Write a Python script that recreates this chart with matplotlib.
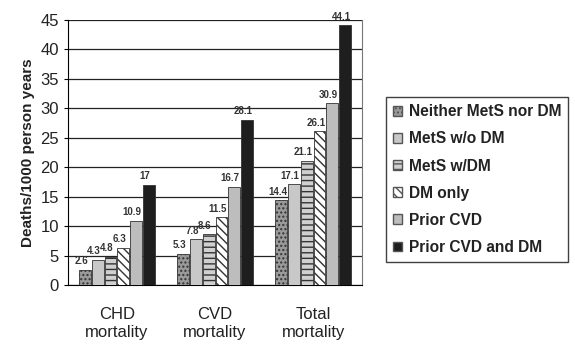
import numpy as np
import matplotlib.pyplot as plt
from matplotlib.patches import Patch

plt.rcParams['font.family'] = ['Liberation Sans', 'DejaVu Sans']

categories = ["CHD\nmortality", "CVD\nmortality", "Total\nmortality"]
series = ["Neither MetS nor DM", "MetS w/o DM", "MetS w/DM",
          "DM only", "Prior CVD", "Prior CVD and DM"]
neither = [2.6, 5.3, 14.4]
mets_wo_dm = [4.3, 7.8, 17.1]
mets_w_dm = [4.8, 8.6, 21.1]
dm_only = [6.3, 11.5, 26.1]
prior_cvd = [10.9, 16.7, 30.9]
prior_cvd_dm = [17, 28.1, 44.1]
values = [neither, mets_wo_dm, mets_w_dm, dm_only, prior_cvd, prior_cvd_dm]
labels = [["2.6", "5.3", "14.4"], ["4.3", "7.8", "17.1"], ["4.8", "8.6", "21.1"],
          ["6.3", "11.5", "26.1"], ["10.9", "16.7", "30.9"], ["17", "28.1", "44.1"]]

faces = ["#9a9a9a", "#c8c8c8", "#d0d0d0", "#ffffff", "#bdbdbd", "#1e1e1e"]
hatches = ["....", "", "---", "\\\\\\\\", "", ""]

fig = plt.figure(figsize=(5.75, 3.58), dpi=100)
ax = fig.add_axes([0.118, 0.204, 0.512, 0.74])

x = np.arange(len(categories))
w = 0.13
for i, vals in enumerate(values):
    pos = x + (i - 2.5) * w
    ax.bar(pos, vals, width=w * 0.92, color=faces[i], edgecolor="#333333",
           linewidth=0.6, hatch=hatches[i], zorder=3)
    for p, v, t in zip(pos, vals, labels[i]):
        ax.text(p - w * 0.3, v + 0.6, t, ha="center", va="bottom",
                fontsize=7, fontweight="bold", color="#333333")

ax.set_ylim(0, 45)
ax.set_yticks(range(0, 46, 5))
ax.set_xlim(-0.5, 2.5)
ax.set_xticks(x)
ax.set_xticklabels(categories, fontsize=12, color="#222222")
ax.tick_params(axis="x", length=0, pad=16)
ax.tick_params(axis="y", labelsize=12, labelcolor="#222222", length=3)
ax.yaxis.grid(True, color="#222222", linewidth=0.9, zorder=0)
ax.set_axisbelow(True)
ax.spines["top"].set_visible(False)
ax.spines["right"].set_color("#777777")
ax.set_ylabel("Deaths/1000 person years", fontsize=11, fontweight="bold",
              color="#222222")

handles = [Patch(facecolor=faces[i], edgecolor="#555555", hatch=hatches[i])
           for i in range(len(series))]
leg = fig.legend(handles, series, loc="upper left",
                 bbox_to_anchor=(0.658, 0.75), frameon=True, fancybox=False,
                 edgecolor="#111111", handlelength=0.6, handleheight=0.6,
                 handletextpad=0.4, labelspacing=0.78, borderpad=0.45,
                 prop={"size": 11.2, "weight": "bold"})
for t in leg.get_texts():
    t.set_color("#222222")

fig.savefig("out.png", dpi=100)
